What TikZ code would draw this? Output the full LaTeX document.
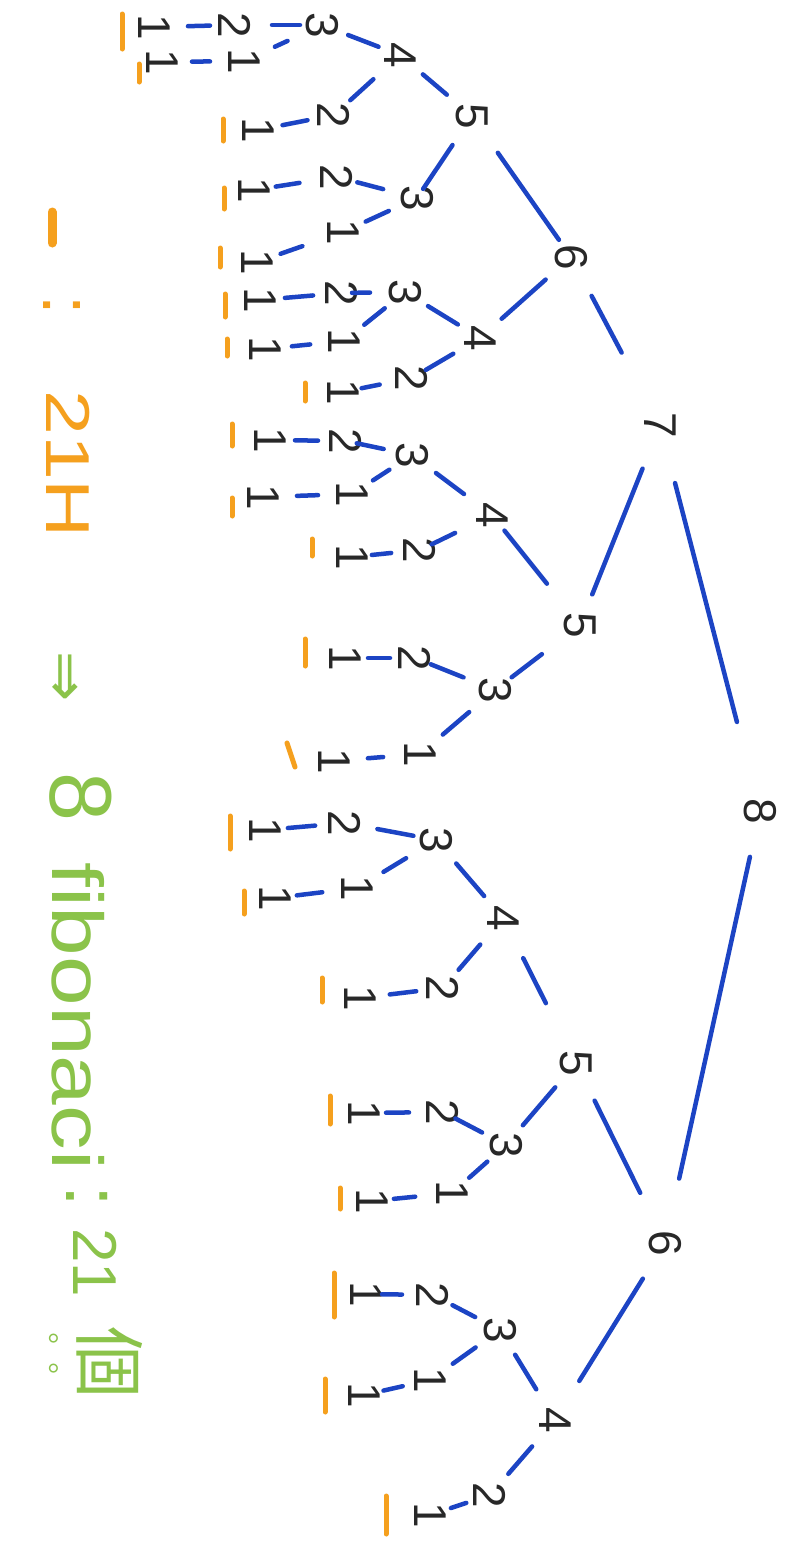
\documentclass[tikz,border=0pt]{standalone}
\usepackage{fontspec}
\setmainfont{Liberation Sans}
\newfontfamily\cjkfont{Noto Sans CJK TC}
\newfontfamily\symfont{DejaVu Sans}
\definecolor{inkblue}{RGB}{28,68,196}
\definecolor{inkorange}{RGB}{245,160,30}
\definecolor{inkgreen}{RGB}{139,195,74}
\definecolor{inkblack}{RGB}{40,40,40}
\tikzset{
  num/.style={text=inkblack, font=\fontsize{46}{46}\selectfont, rotate=-90, inner sep=0pt},
  edge/.style={draw=inkblue, line width=4.5pt, line cap=round},
  tally/.style={draw=inkorange, line width=5pt, line cap=round},
  greentxt/.style={text=inkgreen, rotate=-90, inner sep=0pt},
  orangetxt/.style={text=inkorange, rotate=-90, inner sep=0pt},
}
\newcommand\mynode[4]{\node[num] (#1) at (#2,#3) {#4};}
\newcommand\myedge[4]{\draw[edge, shorten <=#3pt, shorten >=#4pt] (#1.center) -- (#2.center);}
\newcommand\mytick[3]{\draw[tally] (#1,#2) -- (#1,#3);}
\begin{document}
\begin{tikzpicture}[x=1pt,y=-1pt]
\fill[white] (0,0) rectangle (797,1561);
\useasboundingbox (0,0) rectangle (797,1561);
% ---- tree nodes
\mynode{n}{760}{811}{8}
\mynode{nL}{660}{425}{7}
\mynode{nR}{665}{1243}{6}
\mynode{nLL}{571}{257}{6}
\mynode{nLR}{580}{625}{5}
\mynode{nLLL}{472}{116}{5}
\mynode{nLLR}{480}{338}{4}
\mynode{nLLLL}{400}{55}{4}
\mynode{nLLLR}{417}{198}{3}
\mynode{nLLLLL}{322}{25}{3}
\mynode{nLLLLR}{334}{115}{2}
\mynode{nLLLLLL}{235}{25}{2}
\mynode{nLLLLLR}{244}{61}{1}
\mynode{nLLLLLLx}{154}{27}{1}
\mynode{nLLLLLRx}{162}{62}{1}
\mynode{nLLLLRx}{258}{130}{1}
\mynode{nLLLRL}{337}{177}{2}
\mynode{nLLLRR}{343}{232}{1}
\mynode{nLLLRLx}{254}{190}{1}
\mynode{nLLLRRx}{257}{262}{1}
\mynode{nLLRL}{405}{292}{3}
\mynode{nLLRR}{412}{378}{2}
\mynode{nLLRLL}{342}{293}{2}
\mynode{nLLRLR}{344}{341}{1}
\mynode{nLLRLLx}{260}{300}{1}
\mynode{nLLRLRx}{265}{349}{1}
\mynode{nLLRRx}{343}{392}{1}
\mynode{nLRL}{492}{515}{4}
\mynode{nLRR}{495}{690}{3}
\mynode{nLRLL}{412}{455}{3}
\mynode{nLRLR}{420}{550}{2}
\mynode{nLRLLL}{346}{441}{2}
\mynode{nLRLLR}{352}{494}{1}
\mynode{nLRLLLx}{270}{440}{1}
\mynode{nLRLLRx}{263}{497}{1}
\mynode{nLRLRx}{352}{557}{1}
\mynode{nLRRL}{415}{658}{2}
\mynode{nLRRR}{420}{754}{1}
\mynode{nLRRLx}{345}{658}{1}
\mynode{nLRRRx}{334}{761}{1}
\mynode{nRL}{576}{1063}{5}
\mynode{nRR}{555}{1420}{4}
\mynode{nRLL}{503}{918}{4}
\mynode{nRLR}{506}{1145}{3}
\mynode{nRLLL}{436}{840}{3}
\mynode{nRLLR}{443}{988}{2}
\mynode{nRLLLL}{345}{823}{2}
\mynode{nRLLLR}{357}{888}{1}
\mynode{nRLLLLx}{265}{830}{1}
\mynode{nRLLLRx}{275}{898}{1}
\mynode{nRLLRx}{360}{998}{1}
\mynode{nRLRL}{443}{1112}{2}
\mynode{nRLRR}{452}{1193}{1}
\mynode{nRLRLx}{364}{1113}{1}
\mynode{nRLRRx}{372}{1201}{1}
\mynode{nRRL}{500}{1330}{3}
\mynode{nRRR}{490}{1495}{2}
\mynode{nRRLL}{433}{1295}{2}
\mynode{nRRLR}{430}{1380}{1}
\mynode{nRRLLx}{366}{1294}{1}
\mynode{nRRLRx}{364}{1395}{1}
\mynode{nRRRx}{430}{1515}{1}
% ---- edges
\myedge{n}{nL}{92}{60}
\myedge{n}{nR}{47}{66}
\myedge{nL}{nLL}{82}{44}
\myedge{nL}{nLR}{47}{33}
\myedge{nLL}{nLLL}{21}{45}
\myedge{nLL}{nLLR}{34}{29}
\myedge{nLLL}{nLLLL}{33}{30}
\myedge{nLLL}{nLLLR}{35}{11}
\myedge{nLLLL}{nLLLLL}{23}{28}
\myedge{nLLLL}{nLLLLR}{36}{22}
\myedge{nLLLLL}{nLLLLLL}{22}{37}
\myedge{nLLLLL}{nLLLLLR}{38}{34}
\myedge{nLLLLLL}{nLLLLLLx}{25}{34}
\myedge{nLLLLLR}{nLLLLLRx}{34}{30}
\myedge{nLLLLR}{nLLLLRx}{27}{25}
\myedge{nLLLR}{nLLLRL}{35}{21}
\myedge{nLLLR}{nLLLRR}{31}{25}
\myedge{nLLLRL}{nLLLRLx}{38}{22}
\myedge{nLLLRR}{nLLLRRx}{43}{25}
\myedge{nLLR}{nLLRL}{26}{27}
\myedge{nLLR}{nLLRR}{31}{16}
\myedge{nLLRL}{nLLRLL}{35}{10}
\myedge{nLLRL}{nLLRLR}{26}{26}
\myedge{nLLRLL}{nLLRLLx}{29}{25}
\myedge{nLLRLR}{nLLRLRx}{34}{27}
\myedge{nLLRR}{nLLRRx}{33}{19}
\myedge{nLR}{nLRL}{53}{20}
\myedge{nLR}{nLRR}{48}{21}
\myedge{nLRL}{nLRLL}{35}{30}
\myedge{nLRL}{nLRLR}{41}{13}
\myedge{nLRLL}{nLRLLL}{29}{11}
\myedge{nLRLL}{nLRLLR}{27}{25}
\myedge{nLRLLL}{nLRLLLx}{28}{25}
\myedge{nLRLLR}{nLRLLRx}{34}{34}
\myedge{nLRLR}{nLRLRx}{29}{20}
\myedge{nLRR}{nLRRL}{34}{17}
\myedge{nLRR}{nLRRR}{34}{30}
\myedge{nLRRL}{nLRRLx}{25}{23}
\myedge{nLRRR}{nLRRRx}{37}{34}
\myedge{nR}{nRL}{56}{42}
\myedge{nR}{nRR}{42}{46}
\myedge{nRL}{nRLL}{67}{45}
\myedge{nRL}{nRLR}{32}{26}
\myedge{nRLL}{nRLLL}{29}{31}
\myedge{nRLL}{nRLLR}{35}{24}
\myedge{nRLLL}{nRLLLL}{23}{33}
\myedge{nRLLL}{nRLLLR}{35}{31}
\myedge{nRLLLL}{nRLLLLx}{30}{23}
\myedge{nRLLLR}{nRLLLRx}{35}{22}
\myedge{nRLLR}{nRLLRx}{27}{30}
\myedge{nRLR}{nRLRL}{27}{14}
\myedge{nRLR}{nRLRR}{25}{23}
\myedge{nRLRL}{nRLRLx}{34}{22}
\myedge{nRLRR}{nRLRRx}{37}{22}
\myedge{nRR}{nRRL}{36}{29}
\myedge{nRR}{nRRR}{35}{28}
\myedge{nRRL}{nRRLL}{28}{22}
\myedge{nRRL}{nRRLR}{30}{28}
\myedge{nRRLL}{nRRLLx}{31}{16}
\myedge{nRRLR}{nRRLRx}{28}{20}
\myedge{nRRR}{nRRRx}{25}{22}
% ---- orange tallies
\mytick{122}{14}{49}
\mytick{139}{64}{82}
\mytick{223}{119}{141}
\mytick{224}{188}{209}
\mytick{220}{248}{267}
\mytick{225}{294}{317}
\mytick{227}{339}{356}
\mytick{305}{383}{401}
\mytick{232}{424}{446}
\mytick{232}{498}{516}
\mytick{312}{539}{556}
\mytick{305}{639}{666}
\draw[tally] (287,743) -- (295,767);
\mytick{230}{816}{849}
\mytick{244}{891}{914}
\mytick{322}{978}{1002}
\mytick{330}{1096}{1124}
\mytick{340}{1188}{1209}
\mytick{334}{1273}{1317}
\mytick{325}{1379}{1412}
\mytick{386}{1496}{1534}
% ---- legend
\draw[tally, line width=9pt] (52,212) -- (52,243);
\node[orangetxt, font=\fontsize{70}{70}\selectfont] (ocolon) at (62,305) {:};
\node[orangetxt, anchor=base west, font=\fontsize{62}{62}\selectfont] (ocount) at (46,390) {\scalebox{1.3}[1]{21H}};
\node[greentxt, font=\symfont\fontsize{60}{60}\selectfont] (garrow) at (62,677) {⇒};
\node[greentxt, anchor=base west, font=\fontsize{88}{88}\selectfont] (geight) at (50,772) {8};
\node[greentxt, anchor=base west, font=\fontsize{72}{72}\selectfont] (gfib) at (52,862) {\scalebox{1.24}[1]{fibonaci}};
\node[greentxt, font=\fontsize{78}{78}\selectfont] (gcolon) at (87,1196) {:};
\node[greentxt, anchor=base west, font=\fontsize{62}{62}\selectfont] (gnum) at (73,1228) {21};
\node[greentxt, font=\cjkfont\fontsize{72}{72}\selectfont] (gge) at (110,1362) {個};
\node[greentxt, font=\cjkfont\fontsize{30}{30}\selectfont] (gdots) at (50,1353) {。。};
\end{tikzpicture}
\end{document}
